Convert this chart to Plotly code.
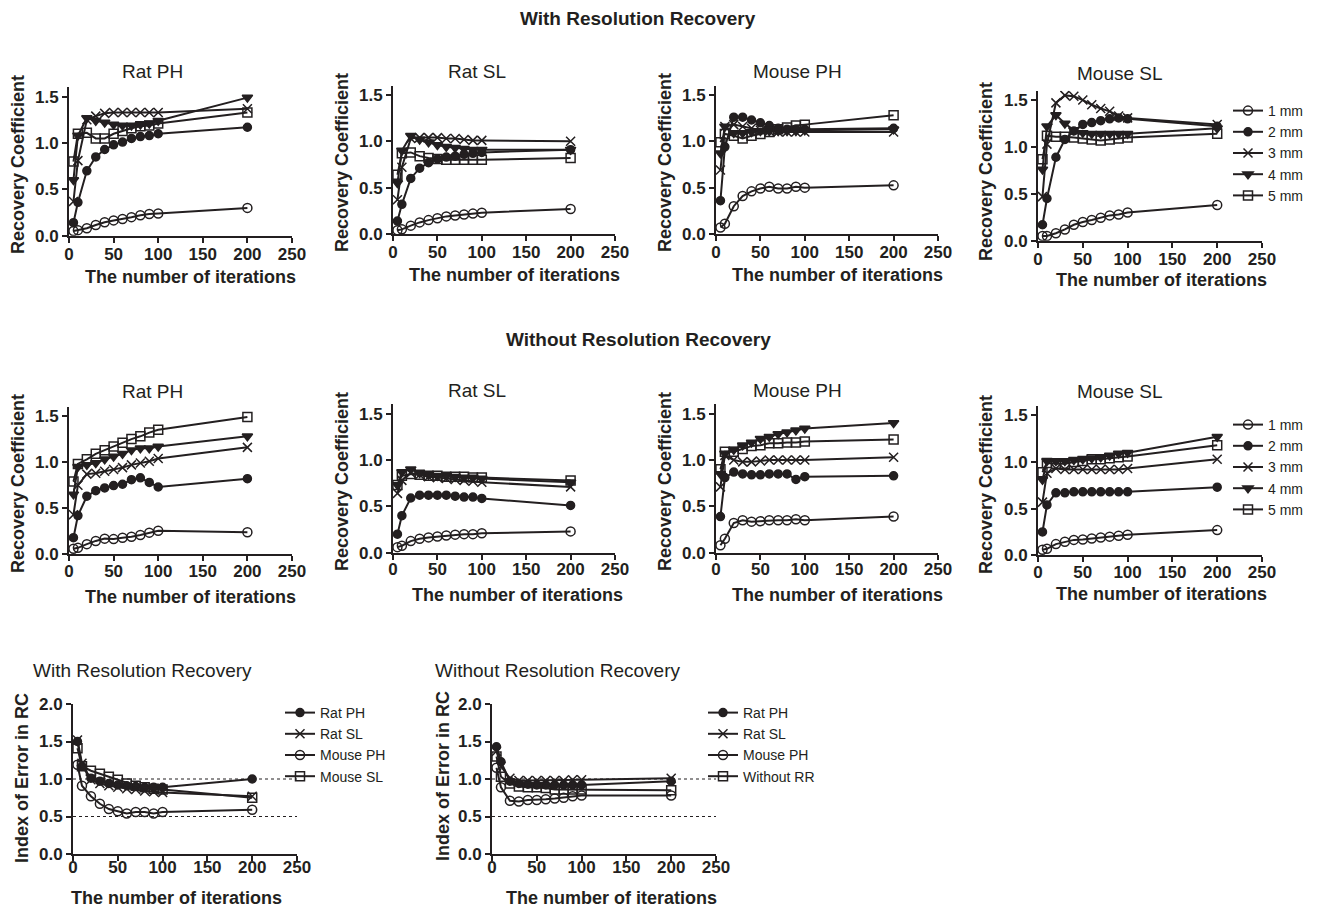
import plotly.graph_objects as go

W, H = 1318, 908

# ---------------- data ----------------
iterations = [5, 10, 20, 30, 40, 50, 60, 70, 80, 90, 100, 200]
sizes = ["1 mm", "2 mm", "3 mm", "4 mm", "5 mm"]

# With Resolution Recovery
rr_rat_ph = {
    "1 mm": [0.05, 0.06, 0.08, 0.115, 0.145, 0.165, 0.18, 0.20, 0.22, 0.235, 0.24, 0.30],
    "2 mm": [0.14, 0.36, 0.70, 0.85, 0.93, 0.98, 1.01, 1.05, 1.07, 1.08, 1.10, 1.17],
    "3 mm": [0.37, 0.81, 1.25, 1.29, 1.32, 1.33, 1.33, 1.33, 1.33, 1.33, 1.33, 1.37],
    "4 mm": [0.60, 1.08, 1.27, 1.24, 1.22, 1.20, 1.19, 1.19, 1.20, 1.21, 1.24, 1.49],
    "5 mm": [0.80, 1.10, 1.11, 1.05, 1.05, 1.10, 1.13, 1.16, 1.18, 1.19, 1.21, 1.33],
}
rr_rat_sl = {
    "1 mm": [0.04, 0.05, 0.09, 0.125, 0.15, 0.17, 0.19, 0.20, 0.21, 0.22, 0.23, 0.27],
    "2 mm": [0.14, 0.32, 0.60, 0.71, 0.77, 0.81, 0.83, 0.84, 0.86, 0.87, 0.88, 0.91],
    "3 mm": [0.37, 0.72, 1.03, 1.04, 1.04, 1.04, 1.03, 1.03, 1.02, 1.01, 1.01, 1.00],
    "4 mm": [0.55, 0.90, 1.06, 1.02, 0.99, 0.96, 0.94, 0.93, 0.92, 0.91, 0.91, 0.91],
    "5 mm": [0.64, 0.87, 0.88, 0.84, 0.82, 0.81, 0.80, 0.80, 0.80, 0.80, 0.80, 0.82],
}
rr_mouse_ph = {
    "1 mm": [0.07, 0.11, 0.30, 0.41, 0.46, 0.49, 0.51, 0.49, 0.49, 0.51, 0.50, 0.525],
    "2 mm": [0.36, 0.94, 1.26, 1.26, 1.23, 1.20, 1.17, 1.14, 1.13, 1.13, 1.13, 1.14],
    "3 mm": [0.69, 1.16, 1.18, 1.16, 1.14, 1.12, 1.11, 1.10, 1.10, 1.10, 1.10, 1.10],
    "4 mm": [0.87, 1.16, 1.09, 1.09, 1.10, 1.11, 1.11, 1.11, 1.11, 1.11, 1.12, 1.13],
    "5 mm": [0.99, 1.08, 1.06, 1.03, 1.06, 1.08, 1.10, 1.13, 1.15, 1.17, 1.18, 1.28],
}
rr_mouse_sl = {
    "1 mm": [0.05, 0.05, 0.08, 0.12, 0.17, 0.20, 0.22, 0.245, 0.27, 0.28, 0.30, 0.38],
    "2 mm": [0.17, 0.45, 0.89, 1.08, 1.17, 1.24, 1.26, 1.28, 1.30, 1.31, 1.30, 1.22],
    "3 mm": [0.47, 1.03, 1.47, 1.55, 1.54, 1.50, 1.45, 1.41, 1.38, 1.33, 1.31, 1.24],
    "4 mm": [0.76, 1.22, 1.34, 1.25, 1.18, 1.15, 1.14, 1.14, 1.14, 1.14, 1.14, 1.20],
    "5 mm": [0.87, 1.12, 1.11, 1.11, 1.10, 1.09, 1.08, 1.07, 1.08, 1.09, 1.10, 1.14],
}

# Without Resolution Recovery
nr_rat_ph = {
    "1 mm": [0.06, 0.07, 0.11, 0.145, 0.17, 0.165, 0.18, 0.19, 0.21, 0.235, 0.255, 0.24],
    "2 mm": [0.18, 0.42, 0.63, 0.69, 0.72, 0.745, 0.76, 0.81, 0.83, 0.78, 0.73, 0.82],
    "3 mm": [0.43, 0.75, 0.87, 0.88, 0.90, 0.92, 0.94, 0.97, 0.99, 1.01, 1.04, 1.16],
    "4 mm": [0.65, 0.95, 0.97, 0.99, 1.03, 1.06, 1.09, 1.13, 1.15, 1.15, 1.17, 1.28],
    "5 mm": [0.79, 0.98, 1.03, 1.09, 1.13, 1.17, 1.21, 1.25, 1.28, 1.32, 1.35, 1.49],
}
nr_rat_sl = {
    "1 mm": [0.06, 0.075, 0.125, 0.15, 0.165, 0.175, 0.185, 0.195, 0.20, 0.20, 0.21, 0.23],
    "2 mm": [0.20, 0.40, 0.59, 0.62, 0.62, 0.62, 0.62, 0.61, 0.60, 0.60, 0.585, 0.51],
    "3 mm": [0.64, 0.78, 0.86, 0.84, 0.82, 0.81, 0.80, 0.79, 0.78, 0.77, 0.76, 0.71],
    "4 mm": [0.73, 0.87, 0.90, 0.86, 0.84, 0.83, 0.83, 0.82, 0.81, 0.81, 0.80, 0.76],
    "5 mm": [0.73, 0.83, 0.85, 0.84, 0.83, 0.83, 0.82, 0.82, 0.82, 0.81, 0.81, 0.78],
}
nr_mouse_ph = {
    "1 mm": [0.08, 0.15, 0.32, 0.35, 0.335, 0.34, 0.35, 0.35, 0.35, 0.36, 0.35, 0.39],
    "2 mm": [0.39, 0.81, 0.87, 0.85, 0.84, 0.84, 0.85, 0.85, 0.85, 0.79, 0.82, 0.83],
    "3 mm": [0.71, 1.05, 1.00, 0.98, 0.98, 0.99, 1.00, 1.00, 1.00, 1.00, 1.00, 1.03],
    "4 mm": [0.85, 1.07, 1.11, 1.16, 1.19, 1.23, 1.25, 1.28, 1.30, 1.32, 1.34, 1.40],
    "5 mm": [0.90, 1.09, 1.09, 1.12, 1.15, 1.16, 1.18, 1.18, 1.19, 1.19, 1.20, 1.22],
}
nr_mouse_sl = {
    "1 mm": [0.06, 0.07, 0.12, 0.145, 0.165, 0.17, 0.18, 0.19, 0.20, 0.21, 0.22, 0.27],
    "2 mm": [0.25, 0.54, 0.67, 0.67, 0.68, 0.68, 0.68, 0.68, 0.68, 0.68, 0.68, 0.73],
    "3 mm": [0.57, 0.88, 0.93, 0.92, 0.92, 0.92, 0.92, 0.92, 0.92, 0.92, 0.93, 1.03],
    "4 mm": [0.81, 1.01, 1.01, 1.01, 1.02, 1.03, 1.04, 1.05, 1.07, 1.09, 1.10, 1.27],
    "5 mm": [0.89, 0.99, 0.98, 0.98, 1.00, 1.01, 1.03, 1.03, 1.04, 1.05, 1.06, 1.18],
}

# Index of error in RC
err_rr = {
    "Rat PH":   [1.50, 1.17, 1.01, 0.97, 0.94, 0.92, 0.91, 0.90, 0.89, 0.89, 0.89, 1.00],
    "Rat SL":   [1.52, 1.21, 0.99, 0.94, 0.91, 0.89, 0.87, 0.86, 0.84, 0.83, 0.82, 0.77],
    "Mouse PH": [1.19, 0.91, 0.77, 0.67, 0.60, 0.57, 0.54, 0.56, 0.56, 0.54, 0.56, 0.59],
    "Mouse SL": [1.41, 1.17, 1.11, 1.07, 1.03, 0.99, 0.94, 0.91, 0.89, 0.87, 0.86, 0.75],
}
err_nr = {
    "Rat PH":     [1.43, 1.23, 0.97, 0.94, 0.93, 0.92, 0.92, 0.92, 0.92, 0.92, 0.92, 0.97],
    "Rat SL":     [1.37, 1.17, 1.01, 0.98, 0.98, 0.98, 0.98, 0.98, 0.98, 0.99, 0.99, 1.01],
    "Mouse PH":   [1.15, 0.89, 0.71, 0.70, 0.72, 0.72, 0.73, 0.74, 0.75, 0.77, 0.78, 0.78],
    "Without RR": [1.30, 1.03, 0.94, 0.90, 0.89, 0.89, 0.88, 0.86, 0.86, 0.86, 0.86, 0.85],
}

panel_titles = ["Rat PH", "Rat SL", "Mouse PH", "Mouse SL"]
x_ticks = [0, 50, 100, 150, 200, 250]
rc_ticks = [0.0, 0.5, 1.0, 1.5]
err_ticks = [0.0, 0.5, 1.0, 1.5, 2.0]
ref_levels = [1.0, 0.5]

# ---------------- styling ----------------
FONT = "Liberation Sans, Arial, Helvetica, sans-serif"
INK = "#231f20"

size_style = {
    "1 mm": dict(symbol="circle-open", size=9),
    "2 mm": dict(symbol="circle", size=8),
    "3 mm": dict(symbol="x-thin", size=9),
    "4 mm": dict(symbol="triangle-down", size=9),
    "5 mm": dict(symbol="square-open", size=9),
}
err_style = {
    "Rat PH": size_style["2 mm"],
    "Rat SL": size_style["3 mm"],
    "Mouse PH": size_style["1 mm"],
    "Mouse SL": size_style["5 mm"],
    "Without RR": size_style["5 mm"],
}

# panel geometry in pixels: x0, x1, y_top, y_bottom, y_max, x-label standoff
panels = [
    (69, 292, 87.4, 235.7, 1.6, -3),
    (393, 615, 85.7, 234.0, 1.6, -3),
    (716, 938, 85.7, 234.0, 1.6, -3),
    (1038, 1262, 90.7, 240.7, 1.6, -3),
    (69, 292, 406.8, 554.3, 1.6, -5),
    (393, 615, 404.4, 552.7, 1.6, -5),
    (716, 938, 404.4, 552.7, 1.6, -5),
    (1038, 1262, 406.0, 555.3, 1.6, -5),
    (73, 297, 704.0, 854.0, 2.0, -8),
    (492, 716, 704.0, 854.0, 2.0, -8),
]


def px(x):
    return x / W


def py(y):
    return 1 - y / H


fig = go.Figure()

rc_sets = [rr_rat_ph, rr_rat_sl, rr_mouse_ph, rr_mouse_sl,
           nr_rat_ph, nr_rat_sl, nr_mouse_ph, nr_mouse_sl]
legend_for_panel = {3: "legend", 7: "legend2"}

for i, data in enumerate(rc_sets):
    suffix = "" if i == 0 else str(i + 1)
    for name in sizes:
        st = size_style[name]
        fig.add_trace(go.Scatter(
            x=iterations, y=data[name], name=name, mode="lines+markers",
            xaxis="x" + suffix, yaxis="y" + suffix,
            line=dict(color=INK, width=2),
            marker=dict(symbol=st["symbol"], size=st["size"], color=INK,
                        line=dict(color=INK, width=1.5)),
            showlegend=i in legend_for_panel,
            legend=legend_for_panel.get(i, "legend"),
        ))

for j, (data, leg) in enumerate([(err_rr, "legend3"), (err_nr, "legend4")]):
    suffix = str(9 + j)
    for name, vals in data.items():
        st = err_style[name]
        fig.add_trace(go.Scatter(
            x=iterations, y=vals, name=name, mode="lines+markers",
            xaxis="x" + suffix, yaxis="y" + suffix,
            line=dict(color=INK, width=2),
            marker=dict(symbol=st["symbol"], size=st["size"], color=INK,
                        line=dict(color=INK, width=1.5)),
            legend=leg,
        ))
    for lv in ref_levels:
        fig.add_shape(type="line", xref="x" + suffix, yref="y" + suffix,
                      x0=0, x1=250, y0=lv, y1=lv, layer="below",
                      line=dict(color=INK, width=1, dash="dot"))

layout = {}
for i, (x0, x1, yt, yb, ymax, xstand) in enumerate(panels):
    suffix = "" if i == 0 else str(i + 1)
    ticks = err_ticks if i >= 8 else rc_ticks
    layout["xaxis" + suffix] = dict(
        domain=[px(x0), px(x1)], anchor="y" + suffix, range=[0, 250],
        tickvals=x_ticks, showline=True, linecolor=INK, linewidth=2,
        ticks="outside", ticklen=5, tickwidth=2, tickcolor=INK,
        showgrid=False, zeroline=False, automargin=False,
        ticklabelstandoff=xstand,
        tickfont=dict(family=FONT, size=17, color=INK, weight="bold"),
    )
    layout["yaxis" + suffix] = dict(
        domain=[py(yb), py(yt)], anchor="x" + suffix, range=[0, ymax],
        tickvals=ticks, tickformat=".1f", showline=True, linecolor=INK, linewidth=2,
        ticks="outside", ticklen=5, tickwidth=2, tickcolor=INK,
        showgrid=False, zeroline=False, automargin=False,
        tickfont=dict(family=FONT, size=17, color=INK, weight="bold"),
    )

ann = []


def text(x, y, s, size, bold=False, angle=0, xanchor="center"):
    ann.append(dict(
        x=px(x), y=py(y), xref="paper", yref="paper", text=s, showarrow=False,
        xanchor=xanchor, yanchor="middle", textangle=angle,
        font=dict(family=FONT, size=size, color=INK, weight="bold" if bold else "normal"),
    ))


# main section titles
text(638, 19, "With Resolution Recovery", 19, bold=True)
text(638, 339, "Without Resolution Recovery", 19, bold=True)

# panel titles
title_pos_top = [(152, 72), (477, 72), (797, 72), (1120, 73)]
title_pos_mid = [(152, 391), (477, 390), (797, 390), (1120, 391)]
for k, t in enumerate(panel_titles):
    text(*title_pos_top[k], t, 19)
    text(*title_pos_mid[k], t, 19)
text(31, 670, "With Resolution Recovery", 19, xanchor="left")
text(433, 670, "Without Resolution Recovery", 19, xanchor="left")

# axis titles
ytitle_pos = [(18, 165), (342, 163), (665, 163), (986, 171),
              (18, 484), (342, 482), (665, 482), (986, 484)]
xtitle_pos = [(190, 277), (514, 275), (837, 275), (1161, 280),
              (190, 597), (517, 595), (837, 595), (1161, 594)]
for k in range(8):
    text(*ytitle_pos[k], "Recovery Coefficient", 18, bold=True, angle=-90)
    text(*xtitle_pos[k], "The number of iterations", 18, bold=True)
text(22, 778, "Index of Error in RC", 18, bold=True, angle=-90)
text(443, 776, "Index of Error in RC", 18, bold=True, angle=-90)
text(176, 898, "The number of iterations", 18, bold=True)
text(611, 898, "The number of iterations", 18, bold=True)

leg_common = dict(
    xanchor="left", yanchor="top", bgcolor="rgba(0,0,0,0)", borderwidth=0,
    font=dict(family=FONT, size=14, color=INK), tracegroupgap=0,
    itemwidth=30,
)

fig.update_layout(
    width=W, height=H,
    margin=dict(l=0, r=0, t=0, b=0, pad=0, autoexpand=False),
    paper_bgcolor="white", plot_bgcolor="white",
    font=dict(family=FONT, color=INK),
    annotations=ann,
    legend=dict(x=px(1228), y=py(95), **leg_common),
    legend2=dict(x=px(1228), y=py(409), **leg_common),
    legend3=dict(x=px(280), y=py(697), **leg_common),
    legend4=dict(x=px(703), y=py(697), **leg_common),
    **layout,
)

fig.write_html(
    "out.html",
    post_script="document.body.style.margin='0';document.body.style.overflow='hidden';",
)
